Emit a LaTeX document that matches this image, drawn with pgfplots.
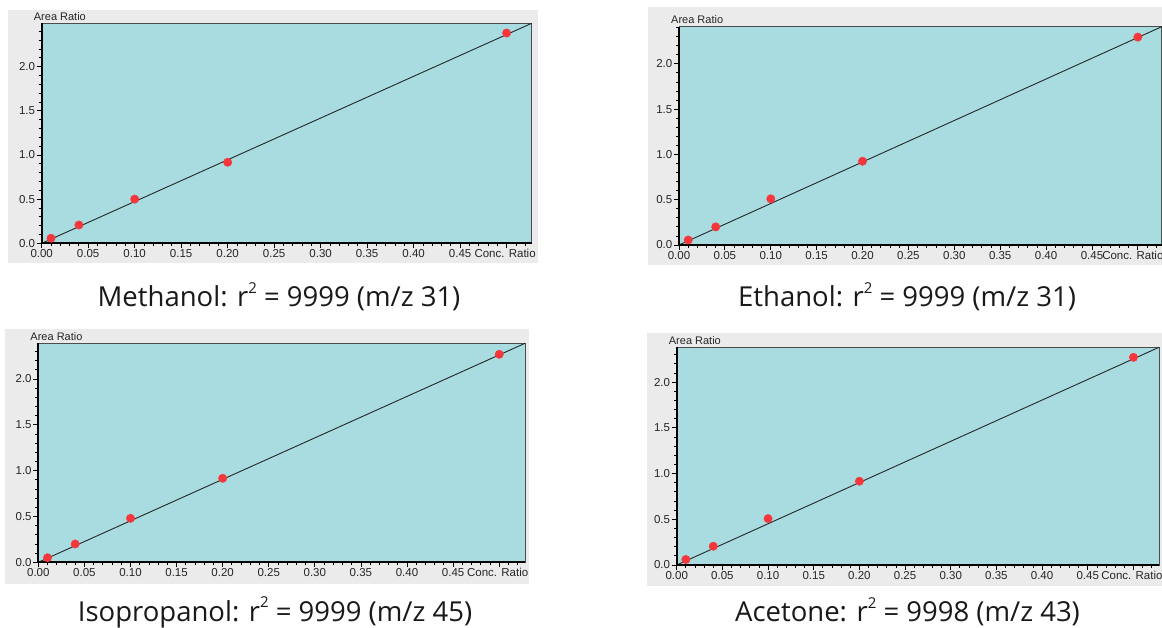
\documentclass[border=0pt]{standalone}
\usepackage{fontspec}
\setmainfont{Open Sans}
\newfontfamily\tickfont{Liberation Sans}
\usepackage{pgfplots}
\pgfplotsset{compat=1.18}
\definecolor{plotbg}{RGB}{168,220,225}
\definecolor{panelgray}{RGB}{235,235,235}
\definecolor{markred}{RGB}{245,55,60}
\pgfplotsset{
  panel/.style={
    scale only axis, anchor=south west, xmin=0, ymin=0, clip=false,
    axis background/.style={fill=plotbg},
    tick align=outside, xtick pos=bottom, ytick pos=left,
    xtick={0,0.05,0.1,0.15,0.2,0.25,0.3,0.35,0.4,0.45,0.5},
    xticklabels={0.00,0.05,0.10,0.15,0.20,0.25,0.30,0.35,0.40,0.45,\hspace*{-3pt}Conc. Ratio},
    ytick={0,0.5,1,1.5,2},
    yticklabels={0.0,0.5,1.0,1.5,2.0},
    minor xtick={0.01,0.02,0.03,0.04,0.06,0.07,0.08,0.09,0.11,0.12,0.13,0.14,0.16,0.17,0.18,0.19,0.21,0.22,0.23,0.24,0.26,0.27,0.28,0.29,0.31,0.32,0.33,0.34,0.36,0.37,0.38,0.39,0.41,0.42,0.43,0.44,0.46,0.47,0.48,0.49,0.51,0.52},
    minor ytick={0.1,0.2,0.3,0.4,0.6,0.7,0.8,0.9,1.1,1.2,1.3,1.4,1.6,1.7,1.8,1.9,2.1,2.2,2.3,2.4},
    major tick length=5pt, minor tick length=3pt,
    every tick/.style={black, line width=0.8pt},
    ticklabel style={font=\tickfont\fontsize{11.5}{12}\selectfont, text=black!85},
    xticklabel style={inner sep=1pt},
    yticklabel style={inner sep=1.5pt},
    axis line style={black!70, line width=0.7pt},
    /pgf/number format/assume math mode=true,
  },
  fitline/.style={black!85, line width=0.9pt, no marks},
  pts/.style={only marks, mark=*, mark size=4.2pt, mark options={fill=markred, draw=markred}},
}
\newcommand{\panelextras}{%
  \draw[black, line width=1.8pt] (rel axis cs:0,1) -- (rel axis cs:0,0) -- (rel axis cs:1,0);
  \node[font=\tickfont\fontsize{11}{12}\selectfont, anchor=base west, inner sep=0pt, text=black!85] at ([xshift=-8pt,yshift=3pt]rel axis cs:0,1) {Area Ratio};
}
\newcommand{\rsq}{r\raisebox{0.48em}{\fontsize{15}{15}\selectfont 2}}
\begin{document}
\begin{tikzpicture}
\useasboundingbox (0pt,0pt) rectangle (1162pt,-628pt);
\fill[white] (0pt,0pt) rectangle (1162pt,-628pt);
\fill[panelgray] (8pt,-10pt) rectangle (538pt,-263pt);
\fill[panelgray] (648pt,-7pt) rectangle (1162pt,-265pt);
\fill[panelgray] (5pt,-329pt) rectangle (529pt,-584pt);
\fill[panelgray] (647pt,-333pt) rectangle (1162pt,-586pt);

% Methanol
\begin{axis}[panel, at={(41.7pt,-243.3pt)}, width=490pt, height=220pt, xmax=0.527, ymax=2.49]
\addplot[fitline] coordinates {(0,0) (0.527,2.49)};
\addplot[pts] coordinates {(0.01,0.057) (0.04,0.207) (0.1,0.50) (0.2,0.917) (0.5,2.38)};
\panelextras
\end{axis}

% Ethanol
\begin{axis}[panel, at={(679pt,-245pt)}, width=482.7pt, height=218.3pt, xmax=0.526, ymax=2.41,
  xticklabels={0.00,0.05,0.10,0.15,0.20,0.25,0.30,0.35,0.40,0.45,\hspace*{-10pt}Conc. Ratio}]
\addplot[fitline] coordinates {(0,0) (0.526,2.41)};
\addplot[pts] coordinates {(0.01,0.055) (0.04,0.20) (0.1,0.51) (0.2,0.925) (0.5,2.295)};
\panelextras
\end{axis}

% Isopropanol
\begin{axis}[panel, at={(38.3pt,-562.3pt)}, width=486.7pt, height=219pt, xmax=0.528, ymax=2.39]
\addplot[fitline] coordinates {(0,0) (0.528,2.39)};
\addplot[pts] coordinates {(0.01,0.05) (0.04,0.20) (0.1,0.48) (0.2,0.917) (0.5,2.27)};
\panelextras
\end{axis}

% Acetone
\begin{axis}[panel, at={(676.7pt,-565pt)}, width=482.3pt, height=217.7pt, xmax=0.528, ymax=2.38]
\addplot[fitline] coordinates {(0,0) (0.528,2.38)};
\addplot[pts] coordinates {(0.01,0.06) (0.04,0.205) (0.1,0.507) (0.2,0.916) (0.5,2.27)};
\panelextras
\end{axis}

\begin{scope}[every node/.style={font=\fontsize{27.5}{31}\selectfont, anchor=base, inner sep=0pt, text=black!90}]
\node at (279pt,-306.7pt) {Methanol: \rsq{} = 9999 (m/z 31)};
\node at (907pt,-306.5pt) {Ethanol: \rsq{} = 9999 (m/z 31)};
\node at (275pt,-621pt) {Isopropanol: \rsq{} = 9999 (m/z 45)};
\node at (907.5pt,-621.7pt) {Acetone: \rsq{} = 9998 (m/z 43)};
\end{scope}
\end{tikzpicture}
\end{document}
